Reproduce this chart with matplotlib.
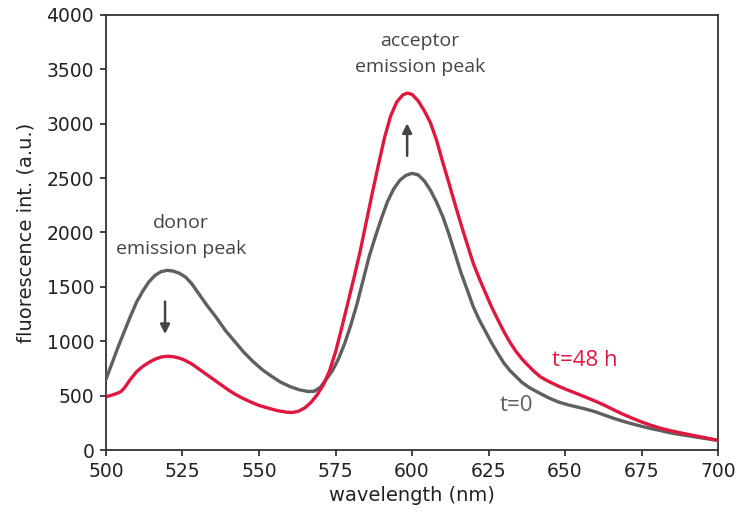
import matplotlib
matplotlib.use("Agg")
import matplotlib.pyplot as plt

plt.rcParams['font.family'] = ['DejaVu Sans']

wl_t0 = [500, 502, 504, 506, 508, 510, 512, 514, 516, 518, 520, 522, 524, 526, 528,
         530, 533, 536, 539, 542, 545, 548, 551, 554, 557, 560, 563, 566, 568, 570,
         572, 574, 576, 578, 580, 582, 584, 586, 588, 590, 592, 594, 596, 598, 600,
         602, 604, 606, 608, 610, 612, 614, 616, 618, 620, 622, 624, 626, 628, 630,
         632, 634, 636, 638, 640, 642, 645, 648, 651, 654, 657, 660, 663, 666, 669,
         672, 675, 678, 681, 684, 687, 690, 693, 696, 700]
int_t0 = [650, 800, 950, 1090, 1230, 1360, 1460, 1545, 1605, 1640, 1652, 1645, 1625, 1590, 1530,
          1450, 1330, 1220, 1100, 1000, 900, 815, 740, 680, 625, 585, 555, 538, 540, 575,
          650, 730, 840, 980, 1150, 1340, 1560, 1780, 1960, 2130, 2285, 2400, 2480, 2525, 2544,
          2530, 2475, 2390, 2280, 2150, 1990, 1810, 1630, 1475, 1318, 1195, 1090, 985, 890, 800,
          730, 675, 620, 580, 548, 518, 475, 440, 415, 395, 375, 350, 320, 290, 264,
          240, 218, 198, 180, 160, 145, 132, 118, 105, 88]

wl_t48 = [500, 502, 504, 505, 506, 508, 510, 512, 514, 516, 518, 520, 522, 524, 526,
          528, 530, 532, 534, 536, 538, 540, 542, 544, 546, 548, 550, 553, 556, 559,
          561, 563, 565, 567, 569, 571, 573, 575, 577, 579, 581, 583, 585, 587, 589,
          591, 593, 595, 597, 598.5, 600, 602, 604, 606, 608, 610, 612, 614, 616, 618,
          620, 622, 624, 626, 628, 630, 632, 634, 636, 638, 640, 642, 644, 646, 648,
          651, 654, 657, 660, 663, 666, 669, 672, 675, 678, 681, 684, 687, 690, 693,
          696, 700]
int_t48 = [490, 505, 525, 540, 570, 650, 720, 768, 805, 835, 855, 862, 858, 845, 822,
           792, 752, 712, 672, 632, 592, 552, 516, 485, 458, 433, 410, 385, 362, 348,
           345, 358, 388, 438, 508, 598, 725, 900, 1120, 1350, 1580, 1820, 2090, 2360, 2620,
           2870, 3070, 3200, 3265, 3282, 3270, 3210, 3120, 3010, 2850, 2650, 2460, 2265, 2075, 1895,
           1717, 1575, 1445, 1315, 1200, 1090, 990, 905, 835, 775, 720, 672, 640, 612, 585,
           550, 517, 483, 448, 410, 368, 328, 292, 258, 228, 202, 180, 162, 145, 128,
           112, 88]

xticks = [500, 525, 550, 575, 600, 625, 650, 675, 700]
yticks = [0, 500, 1000, 1500, 2000, 2500, 3000, 3500, 4000]

gray = '#5f5f5f'
red = '#e0173f'
dark = '#333333'
ann = ['Open Sans', 'DejaVu Sans']

fig = plt.figure(figsize=(7.38, 5.15), dpi=100)
ax = fig.add_axes([0.1436, 0.1262, 0.8294, 0.8447])

ax.plot(wl_t0, int_t0, color=gray, lw=2.4, solid_capstyle='round',
        solid_joinstyle='round', zorder=3)
ax.plot(wl_t48, int_t48, color=red, lw=2.4, solid_capstyle='round',
        solid_joinstyle='round', zorder=4)

ax.set_xlim(500, 700)
ax.set_ylim(0, 4000)
ax.set_xticks(xticks)
ax.set_yticks(yticks)
ax.tick_params(direction='out', length=4.5, width=1.2, labelsize=13.5, colors='#222222', pad=4)
for s in ax.spines.values():
    s.set_linewidth(1.3)
    s.set_color(dark)

ax.set_xlabel('wavelength (nm)', fontsize=14, color='#222222', labelpad=4)
ax.set_ylabel('fluorescence int. (a.u.)', fontsize=14, color='#222222', labelpad=8)

ax.text(524.5, 1968, 'donor\nemission peak', ha='center', va='center', fontsize=14,
        color='#444444', linespacing=1.6, family=ann)
ax.text(602.6, 3641, 'acceptor\nemission peak', ha='center', va='center', fontsize=14,
        color='#444444', linespacing=1.6, family=ann)

ax.annotate('', xy=(519.3, 1040), xytext=(519.3, 1390),
            arrowprops=dict(arrowstyle='-|>', color='#444444', lw=1.8, mutation_scale=14))
ax.annotate('', xy=(598.4, 3030), xytext=(598.4, 2680),
            arrowprops=dict(arrowstyle='-|>', color='#444444', lw=1.8, mutation_scale=14))

ax.text(645.8, 820, 't=48 h', ha='left', va='center', fontsize=16, color=red, family=ann)
ax.text(628.5, 410, 't=0', ha='left', va='center', fontsize=16, color=gray, family=ann)

fig.savefig('out.png', dpi=100)
